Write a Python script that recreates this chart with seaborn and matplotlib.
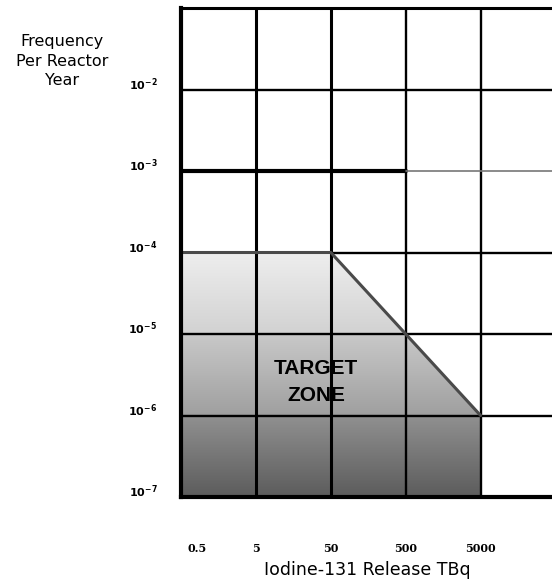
import numpy as np
import pandas as pd
import seaborn as sns
import matplotlib.pyplot as plt
from matplotlib.patches import Polygon
from matplotlib.colors import LinearSegmentedColormap
import matplotlib.transforms as mtransforms

# Limite da zona alvo (liberação de I-131 x frequência)
release_tbq = [0.5, 50, 5000]
freq_limit = [1e-4, 1e-4, 1e-6]
freq_floor = 1e-7

x_ticks = [0.5, 5, 50, 500, 5000]
x_labels = ['0.5', '5', '50', '500', '5000']
y_ticks = [1e-7, 1e-6, 1e-5, 1e-4, 1e-3, 1e-2]
y_labels = [r'$\mathbf{10^{-7}}$', r'$\mathbf{10^{-6}}$', r'$\mathbf{10^{-5}}$',
            r'$\mathbf{10^{-4}}$', r'$\mathbf{10^{-3}}$', r'$\mathbf{10^{-2}}$']

df = pd.DataFrame({'release': release_tbq, 'freq': freq_limit})

sns.set_style('white')
fig = plt.figure(figsize=(5.52, 5.8), dpi=100)
ax = fig.add_axes([181 / 552, 83 / 580, 374.5 / 552, 489 / 580])
ax.set_xscale('log')
ax.set_yscale('log')
ax.set_xlim(0.5, 50000)
ax.set_ylim(1e-7, 1e-1)

# Preenchimento em degradê da zona alvo
poly_x = [release_tbq[0]] + release_tbq + [release_tbq[-1]]
poly_y = [freq_floor] + freq_limit + [freq_floor]
zona = Polygon(list(zip(poly_x, poly_y)), closed=True, transform=ax.transData,
               facecolor='none', edgecolor='none')
ax.add_patch(zona)
cmap = LinearSegmentedColormap.from_list(
    'zona', [(0, '#5c5c5c'), (0.33, '#909090'), (0.34, '#a0a0a0'),
             (0.66, '#c8c8c8'), (0.67, '#d2d2d2'), (1, '#eeeeee')])
grad = np.linspace(0, 1, 256).reshape(-1, 1)
img = ax.imshow(grad, extent=(0, 0.8, 0, 0.5), origin='lower', aspect='auto',
                cmap=cmap, transform=ax.transAxes, zorder=1)
img.set_clip_path(zona)

# Grade
for xv, lw in zip([5, 50, 500, 5000], [2.2, 2.2, 1.7, 1.7]):
    ax.axvline(xv, color='black', lw=lw, zorder=2)
for yv in [1e-2, 1e-5, 1e-6]:
    ax.axhline(yv, color='black', lw=1.7, zorder=2)
ax.axhline(1e-3, xmin=0, xmax=0.6, color='black', lw=3, zorder=2)
ax.axhline(1e-3, xmin=0.6, xmax=1, color='#777777', lw=1.2, zorder=2)
ax.axhline(1e-4, xmin=0.4, xmax=1, color='black', lw=1.7, zorder=2)

# Linha limite
sns.lineplot(data=df, x='release', y='freq', color='#4a4a4a', lw=2.2,
             ax=ax, zorder=3, legend=False)

ax.text(31.6, 2.58e-6, 'TARGET\nZONE', ha='center', va='center', color='black',
        fontsize=15, fontweight='bold', family='Liberation Sans',
        linespacing=1.5, zorder=4)

ax.spines['right'].set_visible(False)
ax.spines['left'].set_linewidth(3)
ax.spines['bottom'].set_linewidth(3)
ax.spines['top'].set_linewidth(2.2)
for side in ['left', 'bottom', 'top']:
    ax.spines[side].set_color('black')
    ax.spines[side].set_zorder(5)

ax.set_xticks(x_ticks)
ax.set_xticklabels(x_labels, fontsize=8, fontweight='bold', family='DejaVu Serif', color='black')
ax.set_yticks(y_ticks)
ax.set_yticklabels(y_labels, fontsize=8, color='black')
ax.minorticks_off()
ax.tick_params(axis='x', length=0, pad=33)
ax.tick_params(axis='y', length=0, pad=17)
lbl0 = ax.get_xticklabels()[0]
lbl0.set_transform(lbl0.get_transform() + mtransforms.ScaledTranslation(16 / 100, 0, fig.dpi_scale_trans))
for lbl in ax.get_yticklabels():
    lbl.set_transform(lbl.get_transform() + mtransforms.ScaledTranslation(0, 7 / 100, fig.dpi_scale_trans))
ax.set_xlabel('')
ax.set_ylabel('')

fig.text(367 / 552, 1 - 570 / 580, 'Iodine-131 Release TBq', ha='center', va='center',
         fontsize=12.5, family='DejaVu Sans', color='black')
fig.text(62 / 552, 1 - 61 / 580, 'Frequency\nPer Reactor\nYear', ha='center', va='center',
         fontsize=11.5, family='DejaVu Sans', linespacing=1.4, color='black')

plt.savefig('out.png', dpi=100)
plt.close()
